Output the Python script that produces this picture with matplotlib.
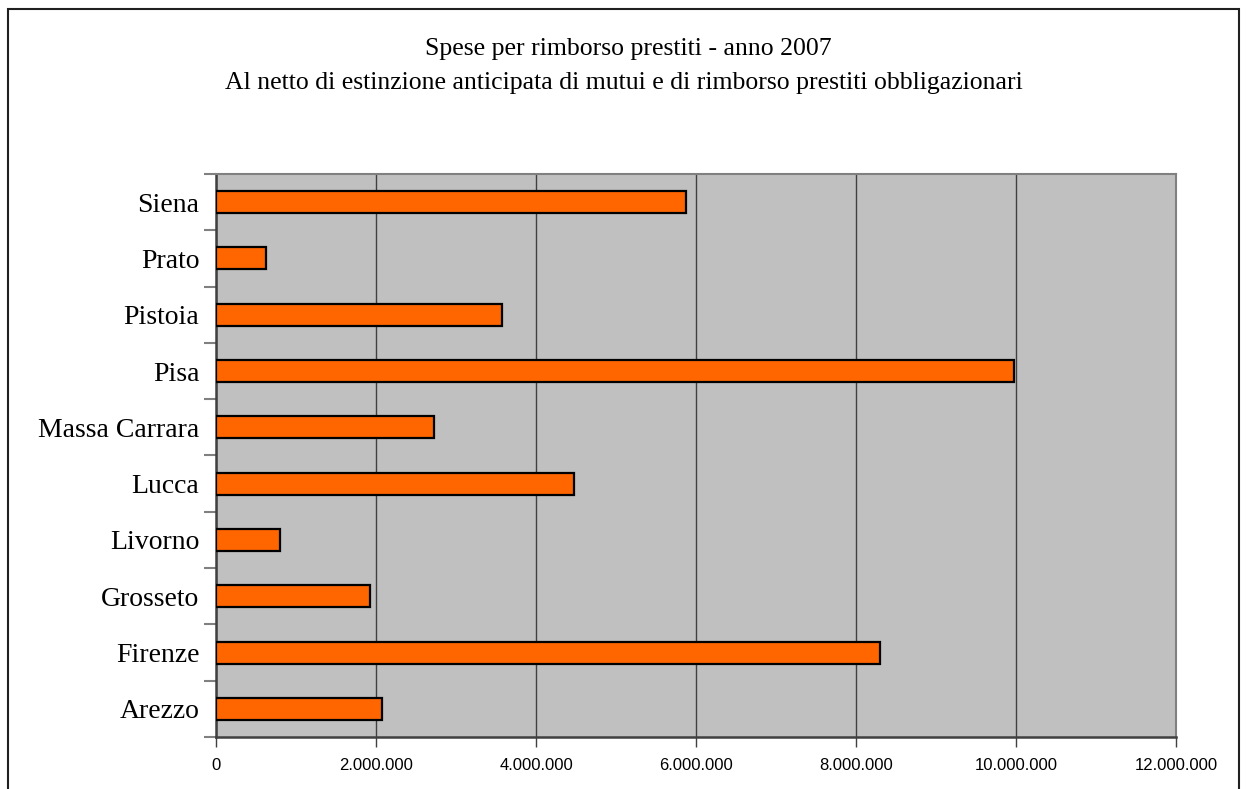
import matplotlib
matplotlib.use("Agg")
import matplotlib.pyplot as plt
from matplotlib.patches import Rectangle
from matplotlib.ticker import FuncFormatter

provinces = ['Arezzo', 'Firenze', 'Grosseto', 'Livorno', 'Lucca',
             'Massa Carrara', 'Pisa', 'Pistoia', 'Prato', 'Siena']
spese = [2075000, 8300000, 1930000, 805000, 4475000,
         2725000, 9975000, 3575000, 625000, 5875000]
xticks = [0, 2000000, 4000000, 6000000, 8000000, 10000000, 12000000]

title_lines = ["Spese per rimborso prestiti - anno 2007",
               "Al netto di estinzione anticipata di mutui e di rimborso prestiti obbligazionari"]

serif = ['Liberation Serif', 'DejaVu Serif']
sans = ['Liberation Sans', 'DejaVu Sans']

def dotted(v, pos):
    return f"{int(v):,}".replace(",", ".")

fig = plt.figure(figsize=(12.48, 7.89), dpi=100)
W, H = 1248, 789
ax = fig.add_axes([216 / W, 1 - 737 / H, (1176 - 216) / W, (737 - 174) / H])
ax.set_facecolor('#C0C0C0')

ypos = list(range(len(provinces)))
ax.barh(ypos, spese, height=0.39, color='#FF6600', edgecolor='black',
        linewidth=1.6, zorder=3)

ax.set_xlim(0, 12000000)
ax.set_ylim(-0.5, len(provinces) - 0.5)
ax.set_xticks(xticks)
ax.xaxis.set_major_formatter(FuncFormatter(dotted))
ax.grid(axis='x', color='#404040', linewidth=1, zorder=1)

# category ticks sit between the bars
ax.set_yticks([i - 0.5 for i in range(len(provinces) + 1)], minor=False)
ax.set_yticklabels([])
ax.set_yticks(ypos, minor=True)
ax.set_yticklabels(provinces, minor=True, family=serif, fontsize=20)
ax.tick_params(axis='y', which='major', length=9, width=1.5, color='#808080')
ax.tick_params(axis='y', which='minor', length=0, pad=12)
ax.tick_params(axis='x', length=7, width=1, color='#404040', pad=8,
               labelsize=12)
for lab in ax.get_xticklabels():
    lab.set_family(sans)

for side in ['left', 'bottom']:
    ax.spines[side].set_color('#404040')
    ax.spines[side].set_linewidth(1.8)
for side in ['top', 'right']:
    ax.spines[side].set_color('#808080')
    ax.spines[side].set_linewidth(1.5)

fig.text(628 / W, 1 - 49 / H, title_lines[0], ha='center', va='center',
         family=serif, fontsize=18.5)
fig.text(624 / W, 1 - 83 / H, title_lines[1], ha='center', va='center',
         family=serif, fontsize=18.5)

fig.patches.append(Rectangle((8 / W, -0.05), (1239 - 8) / W, 1.05 - 9 / H,
                             transform=fig.transFigure, fill=False,
                             edgecolor='#202020', linewidth=1.5))

fig.savefig('out.png', dpi=100)
